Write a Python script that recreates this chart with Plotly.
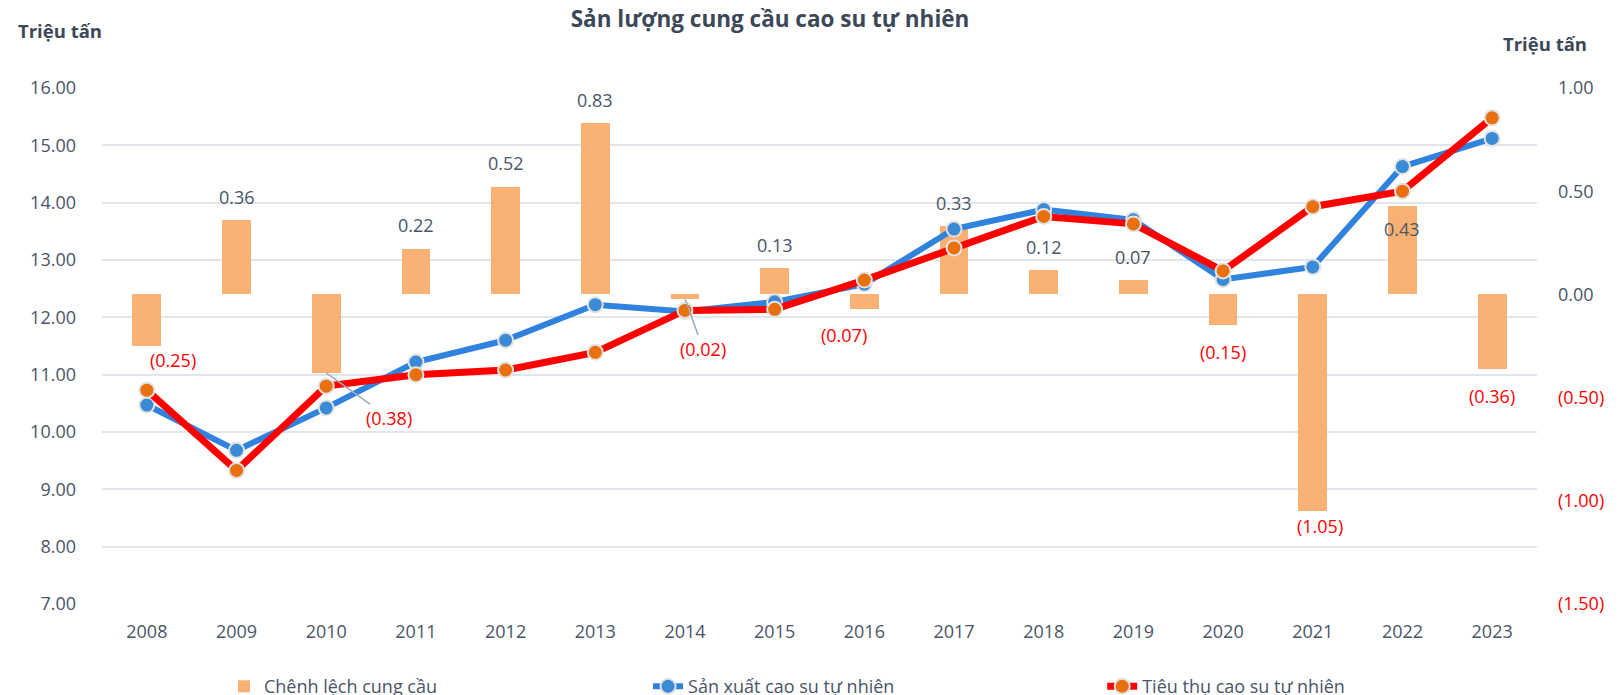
import plotly.graph_objects as go

# ---------------- data ----------------
years = ["2008", "2009", "2010", "2011", "2012", "2013", "2014", "2015",
         "2016", "2017", "2018", "2019", "2020", "2021", "2022", "2023"]
san_xuat = [10.47, 9.68, 10.42, 11.22, 11.60, 12.22, 12.10, 12.27,
            12.58, 13.54, 13.88, 13.70, 12.66, 12.88, 14.63, 15.12]
tieu_thu = [10.73, 9.33, 10.80, 11.00, 11.08, 11.39, 12.12, 12.14,
            12.65, 13.21, 13.76, 13.63, 12.81, 13.93, 14.20, 15.48]
chenh_lech = [-0.25, 0.36, -0.38, 0.22, 0.52, 0.83, -0.02, 0.13,
              -0.07, 0.33, 0.12, 0.07, -0.15, -1.05, 0.43, -0.36]
right_ticks = [1.0, 0.5, 0.0, -0.5, -1.0, -1.5]

# ---------------- styles ----------------
FONT = "Open Sans"
TXT = "#4a5568"
RED_TXT = "#ff0000"
BAR = "#f8b172"
BLUE = "#2f82dd"
BLUE_M = "#3a8ad6"
RED = "#ff0000"
ORANGE_M = "#e8700f"
GRID = "#e1e6ec"

# label offsets in pixels (dx right, dy down) from bar end, and leader flag
label_off = [(26, 14, False), (0, -23, False), (63, 45, True), (0, -24, False),
             (0, -24, False), (0, -23, False), (18, 50, True), (0, -23, False),
             (-20, 26, False), (0, -23, False), (0, -23, False), (0, -23, False),
             (0, 27, False), (7, 15, False), (0, 23, False), (0, 27, False)]


def fmt(v):
    return f"{v:.2f}" if v >= 0 else f"({abs(v):.2f})"


fig = go.Figure()
fig.add_trace(go.Bar(
    x=years, y=chenh_lech, name="Chênh lệch cung cầu",
    marker=dict(color=BAR, line=dict(width=0)), width=0.32,
    yaxis="y", legend="legend", hoverinfo="skip"))
fig.add_trace(go.Scatter(
    x=years, y=san_xuat, name="Sản xuất cao su tự nhiên", mode="lines+markers",
    line=dict(color=BLUE, width=6),
    marker=dict(size=15, color=BLUE_M, line=dict(color="#e2e2e2", width=2)),
    yaxis="y2", legend="legend2"))
fig.add_trace(go.Scatter(
    x=years, y=tieu_thu, name="Tiêu thụ cao su tự nhiên", mode="lines+markers",
    line=dict(color=RED, width=7),
    marker=dict(size=15, color=ORANGE_M, line=dict(color="#e2e2e2", width=2)),
    yaxis="y2", legend="legend3"))

annotations = []
for i, (v, (dx, dy, leader)) in enumerate(zip(chenh_lech, label_off)):
    col = TXT if v >= 0 else RED_TXT
    if leader:
        annotations.append(dict(
            x=i, y=v, xref="x", yref="y", text=fmt(v), showarrow=True,
            arrowhead=0, arrowwidth=1.5, arrowcolor="#9fabb9", ax=dx, ay=dy,
            standoff=0, font=dict(family=FONT, size=18, color=col)))
    else:
        annotations.append(dict(
            x=i, y=v, xref="x", yref="y", text=fmt(v), showarrow=False,
            xshift=dx, yshift=-dy, font=dict(family=FONT, size=18, color=col)))

annotations.append(dict(
    x=-0.0293, y=1.1105, xref="paper", yref="paper", text="<b>Triệu tấn</b>",
    showarrow=False, xanchor="center", yanchor="middle",
    font=dict(family=FONT, size=18.5, color="#3c4858")))
annotations.append(dict(
    x=1.0056, y=1.0853, xref="paper", yref="paper", text="<b>Triệu tấn</b>",
    showarrow=False, xanchor="center", yanchor="middle",
    font=dict(family=FONT, size=18.5, color="#3c4858")))

right_text = [f"<span style='color:{TXT if t >= 0 else RED_TXT}'>{fmt(t)}</span>"
              for t in right_ticks]

legend_common = dict(orientation="h", yanchor="middle", y=-0.16, xanchor="left",
                     bgcolor="rgba(0,0,0,0)",
                     font=dict(family=FONT, size=18, color=TXT))

fig.update_layout(
    width=1619, height=695,
    margin=dict(l=102, r=82, t=88, b=91, autoexpand=False),
    paper_bgcolor="white", plot_bgcolor="white",
    font=dict(family=FONT, color=TXT),
    title=dict(text="<b>Sản lượng cung cầu cao su tự nhiên</b>",
               x=0.4756, xref="container", xanchor="center",
               y=1 - 19 / 695, yref="container", yanchor="middle",
               font=dict(family=FONT, size=22.5, color="#3c4858")),
    bargap=0,
    xaxis=dict(type="category", range=[-0.5, len(years) - 0.5],
               showgrid=False, showline=False, zeroline=False,
               ticks="", tickfont=dict(family=FONT, size=18, color=TXT),
               ticklabelstandoff=15),
    yaxis=dict(side="right", range=[-1.5, 1.0], showgrid=False, zeroline=False,
               showline=False, tickvals=right_ticks, ticktext=right_text,
               tickfont=dict(family=FONT, size=18, color=TXT),
               ticklabelstandoff=20),
    yaxis2=dict(overlaying="y", side="left", range=[7, 16], dtick=1,
                tick0=7, tickformat=".2f", showgrid=True, gridcolor=GRID,
                gridwidth=2, zeroline=False, showline=False,
                tickfont=dict(family=FONT, size=18, color=TXT),
                ticklabelstandoff=25),
    legend=dict(**legend_common, x=0.085),
    legend2=dict(**legend_common, x=0.3805),
    legend3=dict(**legend_common, x=0.697),
    annotations=annotations,
    showlegend=True,
)

fig.write_html(
    "out.html",
    config={"displayModeBar": False},
    post_script="document.body.style.margin='0';document.body.style.overflow='hidden';",
)
